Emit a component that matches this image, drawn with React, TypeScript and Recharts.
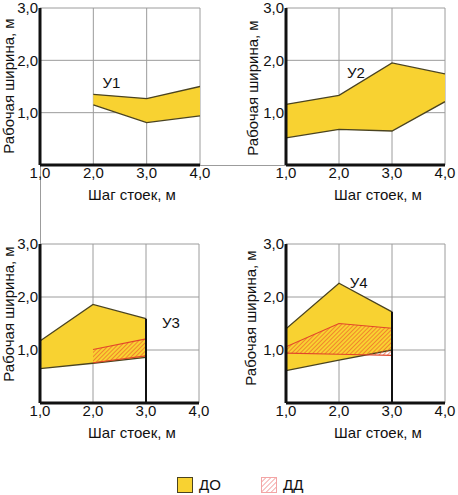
import React from "react";
import { Area, CartesianGrid, ComposedChart, ReferenceDot, ReferenceLine, XAxis, YAxis } from "recharts";

const stepTicks = [1, 2, 3, 4];
const widthTicks = [1, 2, 3];

// У1
const u1Step = [2, 3, 4];
const u1DoLow = [1.15, 0.81, 0.94];
const u1DoHigh = [1.35, 1.27, 1.5];

// У2
const u2Step = [1, 2, 3, 4];
const u2DoLow = [0.52, 0.68, 0.65, 1.21];
const u2DoHigh = [1.16, 1.33, 1.95, 1.74];

// У3
const u3Step = [1, 2, 3];
const u3DoLow = [0.65, 0.75, 0.86];
const u3DoHigh = [1.17, 1.86, 1.59];
const u3DdLow = [null, 0.76, 0.89];
const u3DdHigh = [null, 1.01, 1.21];

// У4
const u4Step = [1, 2, 3];
const u4DoLow = [0.61, 0.81, 1.0];
const u4DoHigh = [1.4, 2.26, 1.72];
const u4DdLow = [0.94, 0.92, 0.9];
const u4DdHigh = [1.06, 1.5, 1.41];

const font = "'Liberation Sans', Arial, sans-serif";
const ink = "#111";
const yellow = "#F8D231";
const doStroke = "#4a4320";
const ddStroke = "#E2472A";

type Row = { x: number; do: [number, number]; dd?: [number, number] | null };

function buildRows(
  steps: number[],
  lo: number[],
  hi: number[],
  ddLo?: (number | null)[],
  ddHi?: (number | null)[]
): Row[] {
  return steps.map((x, i) => {
    const row: Row = { x, do: [lo[i], hi[i]] };
    if (ddLo && ddHi) {
      const a = ddLo[i];
      const b = ddHi[i];
      row.dd = a == null || b == null ? null : [a, b];
    }
    return row;
  });
}

const fmt = (v: number) => v.toFixed(1).replace(".", ",");

interface PanelProps {
  left: number;
  top: number;
  height: number;
  margin: { top: number; right: number; bottom: number; left: number };
  rows: Row[];
  name: string;
  nameX: number;
  nameY: number;
  hatchId: string;
  edge?: boolean;
}

function Panel({ left, top, height, margin, rows, name, nameX, nameY, hatchId, edge }: PanelProps) {
  const hasDd = rows.some((r) => r.dd !== undefined);
  const last = rows[rows.length - 1];
  return (
    <div style={{ position: "absolute", left, top }}>
      <ComposedChart width={229} height={height} data={rows} margin={margin} style={{ overflow: "visible" }}>
        <defs>
          <pattern id={hatchId} width="3" height="3" patternUnits="userSpaceOnUse" patternTransform="rotate(45)">
            <line x1="0" y1="0" x2="0" y2="3" stroke="#EE5A2A" strokeWidth="1.3" />
          </pattern>
        </defs>
        <CartesianGrid stroke="#9c9c9c" strokeWidth={1} />
        <XAxis
          type="number"
          dataKey="x"
          domain={[1, 4]}
          ticks={stepTicks}
          allowDataOverflow
          tickFormatter={fmt}
          tickSize={0}
          tickMargin={2}
          height={30}
          axisLine={{ stroke: ink, strokeWidth: 3 }}
          tick={{ fill: ink, fontSize: 15, fontFamily: font }}
          interval={0}
        />
        <YAxis
          type="number"
          domain={[0, 3]}
          ticks={widthTicks}
          allowDataOverflow
          tickFormatter={fmt}
          tickSize={0}
          tickMargin={2}
          width={30}
          axisLine={{ stroke: ink, strokeWidth: 3 }}
          tick={{ fill: ink, fontSize: 15, fontFamily: font }}
          interval={0}
        />
        <Area
          type="linear"
          dataKey="do"
          fill={yellow}
          fillOpacity={1}
          stroke={doStroke}
          strokeWidth={1.3}
          dot={false}
          activeDot={false}
          isAnimationActive={false}
        />
        {hasDd ? (
          <Area
            type="linear"
            dataKey="dd"
            fill={`url(#${hatchId})`}
            fillOpacity={1}
            stroke={ddStroke}
            strokeWidth={1.2}
            dot={false}
            activeDot={false}
            isAnimationActive={false}
          />
        ) : null}
        {edge ? (
          <ReferenceLine
            segment={[
              { x: last.x, y: 0 },
              { x: last.x, y: last.do[1] },
            ]}
            stroke={ink}
            strokeWidth={2}
          />
        ) : null}
        <ReferenceDot
          x={nameX}
          y={nameY}
          r={0}
          fill="none"
          stroke="none"
          label={{ value: name, position: "center", fill: ink, fontSize: 15, fontFamily: font }}
        />
      </ComposedChart>
    </div>
  );
}

function XTitle({ cx, cy }: { cx: number; cy: number }) {
  return (
    <div
      style={{
        position: "absolute",
        left: cx - 80,
        top: cy - 10,
        width: 160,
        height: 20,
        lineHeight: "20px",
        textAlign: "center",
        fontSize: 15,
        fontFamily: font,
        color: ink,
        whiteSpace: "nowrap",
      }}
    >
      Шаг стоек, м
    </div>
  );
}

function YTitle({ cx, cy }: { cx: number; cy: number }) {
  return (
    <div
      style={{
        position: "absolute",
        left: cx - 90,
        top: cy - 10,
        width: 180,
        height: 20,
        lineHeight: "20px",
        textAlign: "center",
        fontSize: 15,
        fontFamily: font,
        color: ink,
        whiteSpace: "nowrap",
        transform: "rotate(-90deg)",
      }}
    >
      Рабочая ширина, м
    </div>
  );
}

export default function App() {
  const topMargin = (right: number, left: number) => ({ top: 8, right, bottom: 15, left });
  const bottomMargin = (right: number, left: number) => ({ top: 24, right, bottom: 17, left });
  return (
    <div style={{ position: "absolute", left: 0, top: 0, width: 458, height: 495, background: "#fff", overflow: "hidden" }}>
      {/* thin connector lines between panels */}
      <div style={{ position: "absolute", left: 200, top: 165, width: 86, height: 1, background: "#9c9c9c" }} />
      <div style={{ position: "absolute", left: 40, top: 166, width: 1, height: 78, background: "#9c9c9c" }} />

      <Panel
        left={0}
        top={0}
        height={210}
        margin={topMargin(29, 10)}
        rows={buildRows(u1Step, u1DoLow, u1DoHigh)}
        name="У1"
        nameX={2.34}
        nameY={1.57}
        hatchId="hatch1"
      />
      <Panel
        left={229}
        top={0}
        height={210}
        margin={topMargin(13, 27)}
        rows={buildRows(u2Step, u2DoLow, u2DoHigh)}
        name="У2"
        nameX={2.32}
        nameY={1.77}
        hatchId="hatch2"
      />
      <Panel
        left={0}
        top={220}
        height={230}
        margin={bottomMargin(30, 10)}
        rows={buildRows(u3Step, u3DoLow, u3DoHigh, u3DdLow, u3DdHigh)}
        name="У3"
        nameX={3.47}
        nameY={1.52}
        hatchId="hatch3"
        edge
      />
      <Panel
        left={229}
        top={220}
        height={230}
        margin={bottomMargin(13, 27)}
        rows={buildRows(u4Step, u4DoLow, u4DoHigh, u4DdLow, u4DdHigh)}
        name="У4"
        nameX={2.37}
        nameY={2.27}
        hatchId="hatch4"
        edge
      />

      <XTitle cx={132} cy={195} />
      <XTitle cx={378} cy={195} />
      <XTitle cx={132} cy={433} />
      <XTitle cx={378} cy={433} />
      <YTitle cx={9} cy={86} />
      <YTitle cx={253} cy={88} />
      <YTitle cx={9} cy={314} />
      <YTitle cx={251} cy={318} />

      {/* legend */}
      <div style={{ position: "absolute", left: 177, top: 477, width: 14, height: 14, background: yellow, border: `1px solid ${doStroke}` }} />
      <div style={{ position: "absolute", left: 199, top: 475, lineHeight: "20px", fontSize: 15, fontFamily: font, color: ink }}>ДО</div>
      <svg style={{ position: "absolute", left: 261, top: 477 }} width={16} height={16}>
        <defs>
          <pattern id="hatchLegend" width="3.5" height="3.5" patternUnits="userSpaceOnUse" patternTransform="rotate(45)">
            <line x1="0" y1="0" x2="0" y2="3.5" stroke="#F08A8A" strokeWidth="1.4" />
          </pattern>
        </defs>
        <rect x={0.5} y={0.5} width={15} height={15} fill="url(#hatchLegend)" stroke="#F3A5A5" strokeWidth={1} />
      </svg>
      <div style={{ position: "absolute", left: 283, top: 475, lineHeight: "20px", fontSize: 15, fontFamily: font, color: ink }}>ДД</div>
    </div>
  );
}
